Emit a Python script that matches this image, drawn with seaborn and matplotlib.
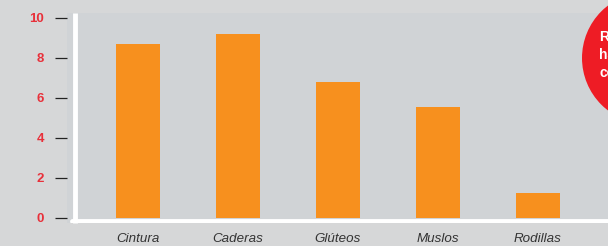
import matplotlib
matplotlib.use("Agg")
import matplotlib.pyplot as plt
import seaborn as sns
import pandas as pd
from matplotlib.patches import Ellipse

zonas = ["Cintura", "Caderas", "Glúteos", "Muslos", "Rodillas"]
valores = [8.7, 9.2, 6.8, 5.55, 1.25]
yticks = [0, 2, 4, 6, 8, 10]

df = pd.DataFrame({"zona": zonas, "valor": valores})

sns.set_style("white")
W, H = 608, 246
fig = plt.figure(figsize=(W / 100, H / 100), dpi=100, facecolor="#d6d7d8")
ax = fig.add_axes([67 / W, 23 / H, (W - 67) / W, 210 / H])
ax.set_facecolor("#d0d3d6")

sns.barplot(data=df, x="zona", y="valor", color="#f7901e", saturation=1,
            width=0.44, linewidth=0, edgecolor="none", ax=ax)

ax.set_xlim(-0.71, 4.70)
ax.set_ylim(-0.25, 10.25)
for s in ax.spines.values():
    s.set_visible(False)

# white axis lines
ax.plot([7.5 / 541, 7.5 / 541], [0, 1], transform=ax.transAxes, color="white",
        lw=3.5, solid_capstyle="butt", clip_on=False)
ax.axhline(-0.13, xmin=5 / 541, xmax=1, color="white", lw=3.5)

ax.set_yticks(yticks)
ax.set_yticklabels([str(v) for v in yticks], color="#e8303a", fontweight="bold",
                   fontsize=9.5, family="Liberation Sans")
ax.tick_params(axis="y", direction="out", length=8.5, width=0.9, color="#222222",
               pad=8, left=True)
ax.tick_params(axis="x", length=0, pad=7)
for lab in ax.get_xticklabels():
    lab.set_fontstyle("italic")
    lab.set_fontsize(9.6)
    lab.set_color("#333333")
    lab.set_family(["Liberation Sans Narrow", "Liberation Sans"])
ax.set_xlabel("")
ax.set_ylabel("")

# red badge on the right edge (cut by the figure border, as in the source)
r = 66
badge = Ellipse((648 / W, 1 - 58 / H), 2 * r / W, 2 * r / H,
                transform=fig.transFigure, facecolor="#ee1c25", edgecolor="none")
fig.patches.append(badge)
fig.text(599 / W, 1 - 55 / H, "Reducción\nhasta\ncentímetros", color="white",
         fontweight="bold", fontsize=10, va="center", ha="left", linespacing=1.4,
         family="Liberation Sans")

fig.savefig("out.png", dpi=100, facecolor=fig.get_facecolor())
